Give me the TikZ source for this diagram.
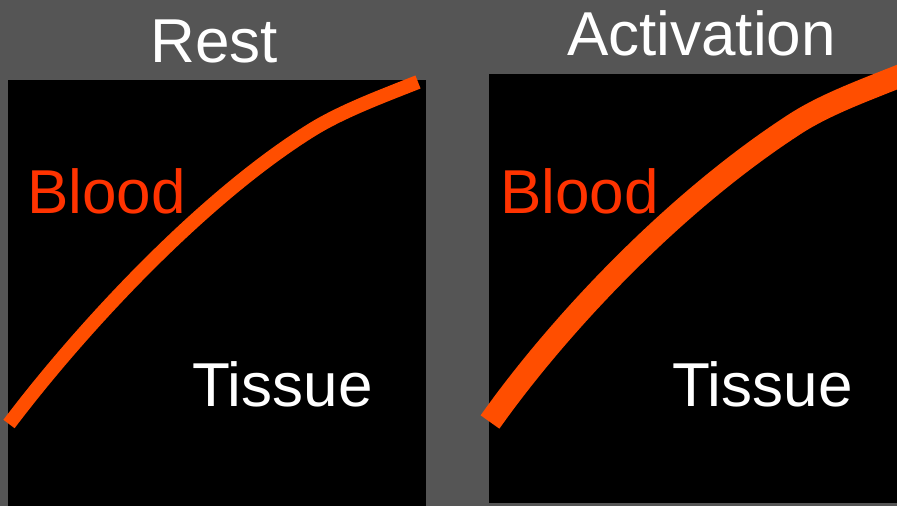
\documentclass[tikz,border=0pt]{standalone}
\usepackage{fontspec}
\setmainfont{Liberation Sans}
\definecolor{bggray}{HTML}{555555}
\definecolor{bloodline}{HTML}{FF4E00}
\definecolor{bloodtext}{HTML}{FF3300}
\begin{document}
\begin{tikzpicture}[x=1pt,y=-1pt,
  lbl/.style={inner sep=0pt, anchor=base, font=\fontsize{62}{62}\selectfont},
  panel/.style={fill=black},
  curve/.style={draw=bloodline, line cap=butt, line join=round}]
\fill[bggray] (0,0) rectangle (897,506);
\useasboundingbox (0,0) rectangle (897,506);
\fill[panel] (8,80) rectangle (426,506);
\fill[panel] (489,74) rectangle (897,503);
\node[lbl, text=white] (rest) at (214,62) {Rest};
\node[lbl, text=white] (act) at (701.5,55) {Activation};
\node[lbl, text=bloodtext] (blood1) at (106.5,213) {Blood};
\node[lbl, text=white] (tissue1) at (282.5,406) {Tissue};
\node[lbl, text=bloodtext] (blood2) at (579.5,213) {Blood};
\node[lbl, text=white] (tissue2) at (762.5,406) {Tissue};
\coordinate (l0) at (9,424);
\coordinate (l1) at (310,131);
\coordinate (l2) at (418,82);
\coordinate (r0) at (490,422);
\coordinate (r1) at (795,124);
\coordinate (r2) at (910,72);
\begin{scope}
\clip (0,0) rectangle (897,506);
\draw[curve, line width=14pt] (l0) .. controls (80,330) and (200,200) .. (l1)
  .. controls (340,112) and (380,97) .. (l2);
\draw[curve, line width=23pt] (r0) .. controls (555,330) and (670,205) .. (r1)
  .. controls (826,104) and (865,90) .. (r2);
\end{scope}
\end{tikzpicture}
\end{document}
